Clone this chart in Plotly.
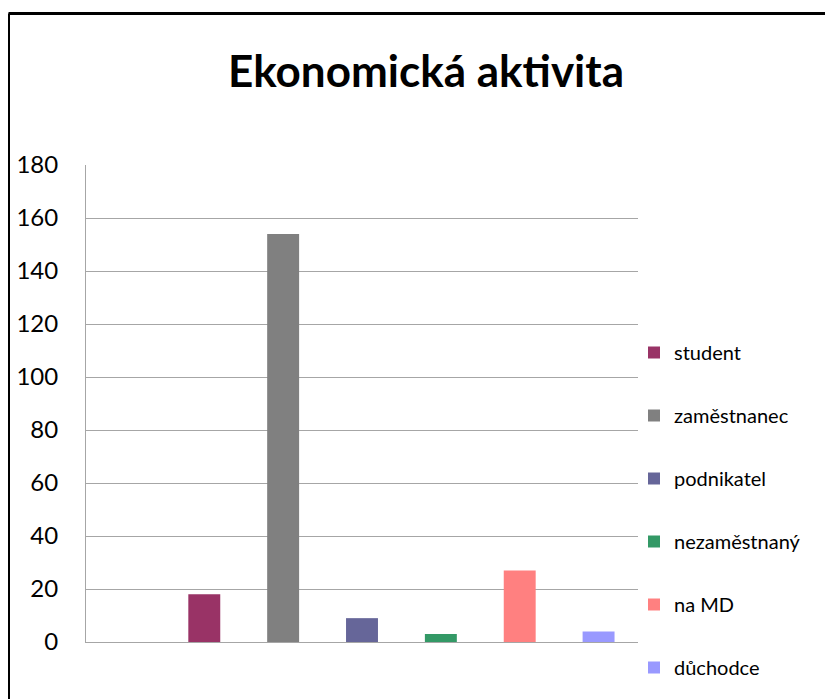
"""
Ekonomická aktivita - column chart with one empty slot at the left, legend on the right
"""
import plotly.graph_objects as go

# data
categories = ["student", "zaměstnanec", "podnikatel", "nezaměstnaný", "na MD", "důchodce"]
values = [18, 154, 9, 3, 27, 4]
colors = ["#993366", "#808080", "#666699", "#339966", "#FF8080", "#9999FF"]
y_ticks = [0, 20, 40, 60, 80, 100, 120, 140, 160, 180]

# leading blank slot, as in the original sheet
slots = [" "] + categories

# page puts the figure 8px in from the top-left corner
OFF = 8
W, H = 833 - OFF, 699 - OFF
L, R, T, B = 86 - OFF, 833 - 638, 165 - OFF, 699 - 642
pw, ph = W - L - R, H - T - B

fig = go.Figure()
for i, (name, val) in enumerate(zip(categories, values)):
    fig.add_trace(go.Bar(
        x=[name], y=[val], name=name, marker_color=colors[i],
        marker_line_width=0, width=0.405, legendgroup=name,
    ))

fig.update_layout(
    width=W, height=H,
    margin=dict(l=L, r=R, t=T, b=B, autoexpand=False),
    paper_bgcolor="white", plot_bgcolor="white",
    barmode="overlay",
    font=dict(family="Lato, Open Sans, sans-serif", color="black"),
    title=dict(text="<b>Ekonomická aktivita</b>", x=(426 - OFF) / W, xanchor="center",
               y=1 - (72 - OFF) / H, yanchor="middle", font=dict(size=44)),
    showlegend=True,
    legend=dict(x=-4 / pw + 1.0, xanchor="left", y=(642 - 333) / ph, yanchor="top",
                font=dict(size=20), tracegroupgap=34, traceorder="grouped",
                bgcolor="rgba(0,0,0,0)"),
)

fig.update_xaxes(
    type="category", categoryorder="array", categoryarray=slots,
    range=[-0.5, len(slots) - 0.5], showticklabels=False, showgrid=False,
    showline=True, linecolor="#A6A6A6", linewidth=1, zeroline=False, automargin=False,
)
fig.update_yaxes(
    range=[0, 180], tickvals=y_ticks, showgrid=True, gridcolor="#A6A6A6", gridwidth=1,
    showline=True, linecolor="#A6A6A6", linewidth=1, zeroline=False, automargin=False,
    tickfont=dict(size=24), ticklabelstandoff=22,
)

# chart border (top and left edges visible in the reference)
bx = (8.5 - 86) / pw
by = (642 - 13.5) / ph
fig.add_shape(type="line", xref="paper", yref="paper", x0=bx, y0=by, x1=(833 - 86) / pw + 0.05, y1=by,
              line=dict(color="black", width=3))
fig.add_shape(type="line", xref="paper", yref="paper", x0=bx, y0=by, x1=bx, y1=-B / ph - 0.05,
              line=dict(color="black", width=3))

fig.write_html("out.html")
